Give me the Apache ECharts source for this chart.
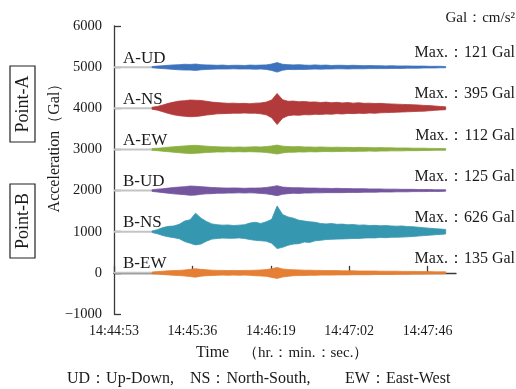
<!DOCTYPE html>
<html><head><meta charset="utf-8">
<script src="https://cdn.jsdelivr.net/npm/echarts@6/dist/echarts.min.js"></script>
<style>html,body{margin:0;padding:0;background:#fff}#c{width:516px;height:389px}</style>
</head><body><div id="c"></div>
<script>
// ---- data ----
const traceNames = ['A-UD', 'A-NS', 'A-EW', 'B-UD', 'B-NS', 'B-EW'];
const baseLevels = [5000, 4000, 3000, 2000, 1000, 0];
const maxValues = [121, 395, 112, 125, 626, 135];
const tickSeconds = [0, 43.25, 86.5, 129.75, 173];
const tickLabels = ['14:44:53', '14:45:36', '14:46:19', '14:47:02', '14:47:46'];
const yTicks = [-1000, 0, 1000, 2000, 3000, 4000, 5000, 6000];
// seconds after 14:44:53 (envelope sampling times)
const timeSec = [21,24,27,30,33,36,39,42,45,48,51,54,57,60,63,66,69,72,75,78,81,84,87,90,93,96,99,102,105,108,111,114,117,120,123,126,129,132,135,138,141,144,147,150,153,156,159,162,165,168,171,174,177,180,183];
// envelope (Gal above / below the trace baseline)
const upAUD = [15,25,35,45,55,60,70,65,75,60,55,50,45,50,40,45,45,40,50,45,50,55,75,110,70,60,55,60,50,45,55,45,50,40,45,45,40,45,40,35,40,35,35,30,35,30,30,30,25,25,25,20,20,20,15];
const downAUD = [15,25,35,45,55,65,70,70,80,65,55,50,45,45,45,40,45,45,45,50,45,55,80,121,75,55,60,55,55,50,45,50,45,45,40,40,45,40,40,40,35,35,35,35,30,30,30,25,25,25,20,20,20,15,15];
const upANS = [25,45,80,120,150,175,185,200,195,190,170,150,140,130,120,125,115,120,110,125,130,150,200,360,210,170,175,160,165,150,155,140,150,135,145,130,140,125,135,120,125,115,120,110,105,100,95,90,85,80,70,65,55,45,35];
const downANS = [25,45,85,125,160,180,195,205,200,185,165,150,135,130,125,120,120,115,120,120,135,160,230,395,240,180,165,170,155,160,145,150,140,145,130,140,125,130,120,125,115,120,110,105,100,95,90,85,80,75,70,60,50,40,35];
const upAEW = [20,30,40,55,65,75,85,95,100,90,80,70,65,60,60,55,60,55,60,65,60,70,85,105,80,70,65,70,60,60,55,60,55,50,55,50,50,45,50,45,45,40,45,40,40,35,35,35,30,30,30,25,25,20,20];
const downAEW = [20,30,45,55,70,80,90,100,95,85,75,70,60,65,55,60,55,60,55,60,65,75,90,112,85,70,70,60,65,55,60,55,50,55,50,50,45,50,45,45,40,45,40,40,35,35,35,30,30,30,25,25,20,20,20];
const upBUD = [20,35,45,60,75,85,95,110,105,95,85,75,70,65,60,65,60,55,60,60,65,75,95,118,85,75,70,70,65,60,60,55,55,50,55,50,50,45,45,45,40,40,40,35,35,35,30,30,30,25,25,25,20,20,20];
const downBUD = [20,35,50,65,80,90,100,115,110,90,80,75,65,65,60,60,55,60,55,60,70,80,100,125,90,75,65,70,60,60,55,55,50,50,50,50,45,45,45,40,40,40,35,35,35,30,30,30,25,25,25,20,20,20,15];
const upBNS = [20,50,100,130,140,180,260,290,450,330,250,190,170,160,165,150,160,170,210,230,200,240,300,626,420,360,330,280,260,240,230,200,190,200,180,185,170,175,160,165,150,155,145,150,140,135,140,125,120,110,95,85,75,65,55];
const downBNS = [20,50,95,125,145,170,240,280,320,300,230,180,165,155,160,160,150,165,190,210,220,230,280,410,380,330,300,290,250,260,220,210,190,185,180,175,170,165,165,155,150,150,140,145,135,135,130,125,115,105,95,85,75,65,55];
const upBEW = [20,30,40,50,55,60,70,85,100,85,75,65,60,60,55,60,55,60,60,65,70,80,100,130,95,80,75,70,65,65,60,60,55,55,55,50,50,50,45,45,45,45,40,40,40,40,35,35,35,30,30,30,25,25,25];
const downBEW = [20,30,40,50,60,65,75,90,105,80,70,65,60,55,60,55,60,55,60,70,75,85,110,135,100,85,70,65,65,60,60,55,55,55,50,50,50,45,45,45,45,40,40,40,40,35,35,35,30,30,30,25,25,25,20];

const upArrays = [upAUD, upANS, upAEW, upBUD, upBNS, upBEW];
const downArrays = [downAUD, downANS, downAEW, downBUD, downBNS, downBEW];

// ---- styles ----
const traceColors = ['#3d72bd', '#b23a3a', '#8aae40', '#7456a0', '#3697b0', '#e47f34'];
const FONT = '"Liberation Serif", "Times New Roman", serif';
const TXT = '#1a1a1a';

const baselineSeries = {
  type: 'custom', silent: true, z: 2,
  data: baseLevels.map(l => [0, l]),
  encode: { x: 0, y: 1 },
  renderItem: (params, api) => {
    const lvl = api.value(1);
    const p0 = api.coord([0, lvl]);
    const p1 = api.coord([timeSec[0], lvl]);
    return { type: 'line', shape: { x1: p0[0], y1: p0[1], x2: p1[0], y2: p1[1] },
      style: { stroke: '#c4c4c4', lineWidth: 2 } };
  }
};

const bandSeries = traceNames.map((name, k) => ({
  name: name, type: 'custom', silent: true, z: 3,
  data: [[timeSec[0], baseLevels[k]]],
  encode: { x: 0, y: 1 },
  renderItem: (params, api) => {
    const lvl = baseLevels[k], up = upArrays[k], dn = downArrays[k];
    const pts = [];
    timeSec.forEach((t, i) => pts.push(api.coord([t, lvl + up[i]])));
    for (let i = timeSec.length - 1; i >= 0; i--) pts.push(api.coord([timeSec[i], lvl - dn[i]]));
    return { type: 'polygon', shape: { points: pts },
      style: { fill: traceColors[k], stroke: traceColors[k], lineWidth: 0.8 } };
  }
}));

const chart = echarts.init(document.getElementById('c'), null, { renderer: 'canvas' });
chart.setOption({
  animation: false,
  backgroundColor: '#fff',
  textStyle: { fontFamily: FONT },
  grid: { left: 114, right: 60, top: 26, bottom: 75, containLabel: false },
  xAxis: {
    type: 'value', min: 0, max: 188.7,
    axisLine: { show: true, lineStyle: { color: '#3a3a3a', width: 1.3 } },
    axisTick: { show: true, inside: true, length: 7, customValues: tickSeconds, lineStyle: { color: '#3a3a3a', width: 1.3 } },
    axisLabel: {
      customValues: tickSeconds, margin: 10, color: TXT, fontSize: 14, fontFamily: FONT,
      formatter: v => { const i = tickSeconds.findIndex(s => Math.abs(s - v) < 0.01); return i >= 0 ? tickLabels[i] : ''; }
    },
    splitLine: { show: false }
  },
  yAxis: {
    type: 'value', min: -1000, max: 6000, interval: 1000,
    axisLine: { show: true, lineStyle: { color: '#3a3a3a', width: 1.3 } },
    axisTick: { show: true, inside: true, length: 7, lineStyle: { color: '#3a3a3a', width: 1.3 } },
    axisLabel: { margin: 12, color: TXT, fontSize: 14.5, fontFamily: FONT,
      formatter: v => yTicks.includes(v) ? (v < 0 ? '\u2212' + Math.abs(v) : String(v)) : '' },
    splitLine: { show: false }
  },
  series: [baselineSeries].concat(bandSeries)
});

// ---- text annotations ----
const graphics = [];
traceNames.forEach((name, k) => {
  const y = chart.convertToPixel({ xAxisIndex: 0, yAxisIndex: 0 }, [0, baseLevels[k]])[1];
  graphics.push({ type: 'text', x: 123, y: y - 9, z: 10,
    style: { text: name, font: '17px ' + FONT, fill: TXT, textVerticalAlign: 'middle' } });
  graphics.push({ type: 'text', x: 515, y: y - 14, z: 10,
    style: { text: 'Max.：' + maxValues[k] + ' Gal', font: '16px ' + FONT, fill: TXT, textAlign: 'right', textVerticalAlign: 'middle' } });
});
graphics.push({ type: 'text', x: 515, y: 18, style: { text: 'Gal：cm/s²', font: '15px ' + FONT, fill: TXT, textAlign: 'right', textVerticalAlign: 'middle' } });
[['Point-A', 66, 142], ['Point-B', 184, 258]].forEach(([label, y0, y1]) => {
  graphics.push({ type: 'rect', shape: { x: 10, y: y0, width: 25, height: y1 - y0 },
    style: { fill: '#fff', stroke: '#222', lineWidth: 1.2 } });
  graphics.push({ type: 'text', x: 23, y: (y0 + y1) / 2, rotation: Math.PI / 2,
    style: { text: label, font: '18px ' + FONT, fill: TXT, textAlign: 'center', textVerticalAlign: 'middle' } });
});
graphics.push({ type: 'text', x: 55, y: 144, rotation: Math.PI / 2,
  style: { text: 'Acceleration（Gal）', font: '16px ' + FONT, fill: TXT, textAlign: 'center', textVerticalAlign: 'middle' } });
graphics.push({ type: 'text', x: 196, y: 353, style: { text: 'Time', font: '16px ' + FONT, fill: TXT, textVerticalAlign: 'middle' } });
graphics.push({ type: 'text', x: 243, y: 353, style: { text: '（hr.：min.：sec.）', font: '15px ' + FONT, fill: TXT, textVerticalAlign: 'middle' } });
graphics.push({ type: 'text', x: 67, y: 379, style: { text: 'UD：Up-Down,', font: '16px ' + FONT, fill: TXT, textVerticalAlign: 'middle' } });
graphics.push({ type: 'text', x: 190, y: 379, style: { text: 'NS：North-South,', font: '16px ' + FONT, fill: TXT, textVerticalAlign: 'middle' } });
graphics.push({ type: 'text', x: 345, y: 379, style: { text: 'EW：East-West', font: '16px ' + FONT, fill: TXT, textVerticalAlign: 'middle' } });
chart.setOption({ graphic: graphics });
</script>
</body></html>
